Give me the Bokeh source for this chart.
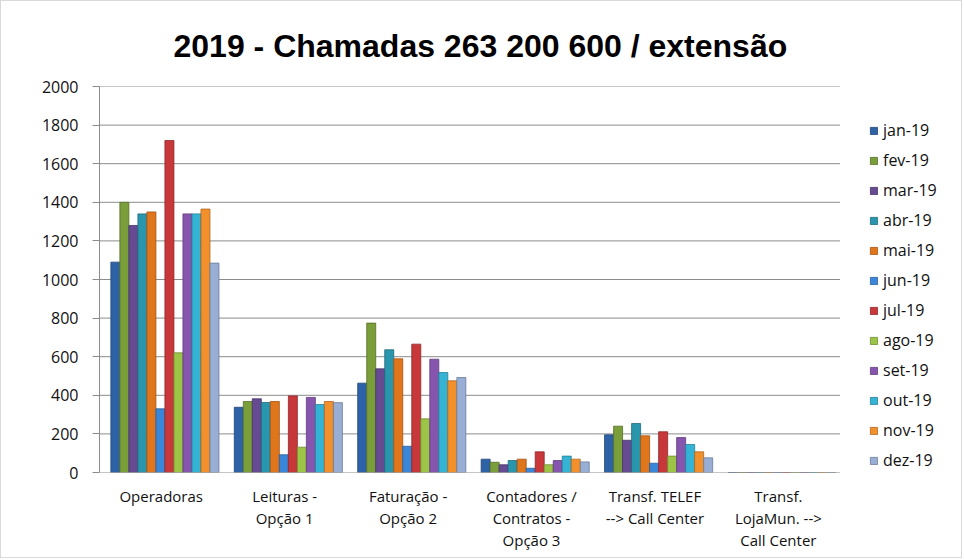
from bokeh.plotting import figure
from bokeh.models import (ColumnDataSource, FactorRange, Range1d, FixedTicker,
                          Legend, LegendItem, Title, CategoricalAxis)
from bokeh.transform import dodge
from bokeh.embed import file_html
from bokeh.resources import INLINE

# ---------------- data ----------------
categories = ["Operadoras", "Leituras - Opção 1", "Faturação - Opção 2",
              "Contadores / Contratos - Opção 3", "Transf. TELEF --> Call Center",
              "Transf. LojaMun. --> Call Center"]
category_labels = ["Operadoras", "Leituras -\nOpção 1", "Faturação -\nOpção 2",
                   "Contadores /\nContratos -\nOpção 3", "Transf. TELEF\n--> Call Center",
                   "Transf.\nLojaMun. -->\nCall Center"]
months = ["jan-19", "fev-19", "mar-19", "abr-19", "mai-19", "jun-19",
          "jul-19", "ago-19", "set-19", "out-19", "nov-19", "dez-19"]

jan_19 = [1090, 338, 463, 69, 195, 0]
fev_19 = [1400, 368, 774, 53, 240, 0]
mar_19 = [1280, 382, 537, 40, 167, 0]
abr_19 = [1340, 363, 636, 62, 254, 0]
mai_19 = [1350, 368, 589, 69, 190, 0]
jun_19 = [330, 92, 136, 22, 48, 0]
jul_19 = [1720, 397, 665, 107, 211, 0]
ago_19 = [620, 131, 278, 40, 85, 0]
set_19 = [1340, 389, 587, 62, 181, 0]
out_19 = [1340, 352, 518, 85, 145, 0]
nov_19 = [1365, 368, 475, 69, 107, 0]
dez_19 = [1085, 362, 492, 55, 76, 0]

series = [jan_19, fev_19, mar_19, abr_19, mai_19, jun_19,
          jul_19, ago_19, set_19, out_19, nov_19, dez_19]

y_ticks = [0, 200, 400, 600, 800, 1000, 1200, 1400, 1600, 1800, 2000]

title_text = "2019 - Chamadas 263 200 600 / extensão"

colors = ["#2E62A6", "#7A9E3A", "#664B92", "#2A96AD", "#E0761C", "#3A86D8",
          "#C8383A", "#9CC447", "#8656AE", "#34B3D4", "#F2912C", "#98AED4"]
edge_colors = ["#1F4577", "#566F28", "#473367", "#1D6A7A", "#A35312", "#285F9A",
               "#8E2628", "#6E8B31", "#5F3C7B", "#237F96", "#AD661E", "#6B7C98"]

data = {"cat": categories}
for m, vals in zip(months, series):
    data[m] = vals
source = ColumnDataSource(data)

FONT = "Open Sans"
TXT = "#111111"
GRID = "#8c8c8c"

# an extra blank slot on the right holds the legend (inside the plot frame)
LEGEND_SLOT = "legend-slot"
p = figure(x_range=FactorRange(*categories, LEGEND_SLOT), y_range=Range1d(0, 2000),
           width=962, height=558, output_backend="svg", toolbar_location=None,
           min_border_left=98, min_border_right=0, min_border_top=85,
           min_border_bottom=87)
p.outline_line_color = None
p.background_fill_color = "white"
p.border_fill_color = "white"
p.styles = {"border": "1px solid #d9d9d9"}

# horizontal grid lines, drawn only across the category slots
grid_vals = [v for v in y_ticks if v != y_ticks[0]]
grid_src = ColumnDataSource(dict(y=grid_vals,
                                 x0=[categories[0]] * len(grid_vals),
                                 x1=[categories[-1]] * len(grid_vals)))
p.segment(x0=dodge("x0", -0.5, range=p.x_range), x1=dodge("x1", 0.5, range=p.x_range),
          y0="y", y1="y", source=grid_src, line_color=GRID, line_width=1)

bar_w = 0.073
shift = 0.03
items = []
for i, m in enumerate(months):
    off = (i - 5.5) * bar_w + shift
    r = p.vbar(x=dodge("cat", off, range=p.x_range), top=m, width=bar_w,
               source=source, fill_color=colors[i], line_color=edge_colors[i],
               line_width=0.8)
    items.append(LegendItem(label=m, renderers=[r]))

# base (category) axis line on top of the bars
base_src = ColumnDataSource(dict(y=[y_ticks[0]], x0=[categories[0]], x1=[categories[-1]]))
p.segment(x0=dodge("x0", -0.5, range=p.x_range), x1=dodge("x1", 0.5, range=p.x_range),
          y0="y", y1="y", source=base_src, line_color=GRID, line_width=1)

legend = Legend(items=items, location=(770, 1), margin=0, padding=5,
                spacing=8, glyph_width=9, glyph_height=9, label_height=20,
                label_standoff=5, label_text_font=FONT,
                label_text_font_size="16px", label_text_color=TXT,
                border_line_color=None, background_fill_alpha=0)
p.add_layout(legend, "center")

# title
p.add_layout(Title(text=title_text, align="left", offset=74, standoff=45,
                   text_font="Liberation Sans", text_font_size="32px",
                   text_font_style="bold", text_color="#000000"), "above")

# y axis
p.yaxis.ticker = FixedTicker(ticks=y_ticks)
p.yaxis.axis_line_color = GRID
p.yaxis.major_tick_line_color = GRID
p.yaxis.major_tick_out = 7
p.yaxis.major_tick_in = 0
p.yaxis.minor_tick_line_color = None
p.yaxis.major_label_standoff = 14
p.yaxis.major_label_text_font = FONT
p.yaxis.major_label_text_font_size = "16px"
p.yaxis.major_label_text_color = TXT

# x axis: one categorical axis per text line of the category labels
p.xaxis.visible = False
p.xgrid.grid_line_color = None
p.ygrid.grid_line_color = None

split_labels = [lbl.split("\n") for lbl in category_labels]
n_lines = max(len(s) for s in split_labels)
for k in range(n_lines):
    line = []
    blank = 0
    for s in split_labels + [[]]:
        if k < len(s):
            line.append(s[k])
        else:
            blank += 1
            line.append(" " * blank)   # distinct blank factors
    name = "line%d" % k
    p.extra_x_ranges[name] = FactorRange(*line)
    ax = CategoricalAxis(x_range_name=name)
    ax.axis_line_color = None
    ax.major_tick_line_color = None
    ax.minor_tick_line_color = None
    ax.major_tick_out = 0
    ax.major_tick_in = 0
    ax.major_label_standoff = 13 if k == 0 else -1
    ax.major_label_text_font = FONT
    ax.major_label_text_font_size = "15px"
    ax.major_label_text_color = TXT
    ax.major_label_orientation = "horizontal"
    p.add_layout(ax, "below")

open("out.html", "w").write(file_html(p, INLINE))
